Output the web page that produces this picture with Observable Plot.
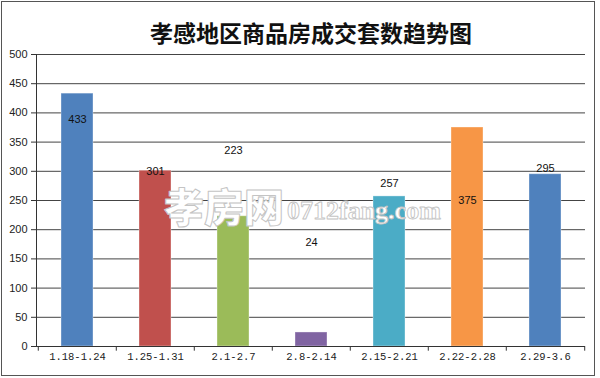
<!DOCTYPE html>
<html><head><meta charset="utf-8">
<script src="https://cdn.jsdelivr.net/npm/d3@7"></script>
<script src="https://cdn.jsdelivr.net/npm/@observablehq/plot@0.6"></script>
<style>
html,body{margin:0;padding:0;background:#fff;}
#wrap{position:relative;width:600px;height:378px;overflow:hidden;}
#border{position:absolute;left:1px;top:1px;width:592px;height:373px;border:1.5px solid #555;pointer-events:none;}
</style></head><body>
<div id="wrap"><div id="chart"></div><div id="border"></div></div>
<script>
const title = "孝感地区商品房成交套数趋势图";
const categories = ["1.18-1.24", "1.25-1.31", "2.1-2.7", "2.8-2.14", "2.15-2.21", "2.22-2.28", "2.29-3.6"];
const values = [433, 301, 223, 24, 257, 375, 295];
const labelAt = [389, 299, 336, 178, 279, 250, 304];
const yTicks = [0, 50, 100, 150, 200, 250, 300, 350, 400, 450, 500];
const barColors = ["#4F81BD", "#C0504D", "#9BBB59", "#8064A2", "#4BACC6", "#F79646", "#4F81BD"];
const watermark = ["孝房网", "0712fang.com"];

const data = categories.map((c, i) => ({cat: c, value: values[i], labelY: labelAt[i], color: barColors[i]}));
const step = (600 - 36 - 15) / categories.length;

const chart = Plot.plot({
  width: 600,
  height: 378,
  marginLeft: 36,
  marginRight: 15,
  marginTop: 54,
  marginBottom: 32,
  style: {background: "#fff", fontFamily: "Arial, 'Liberation Sans', sans-serif", color: "#222"},
  x: {domain: categories, paddingInner: 0.59, paddingOuter: 0.295, label: null},
  y: {domain: [0, 500], label: null},
  color: {type: "identity"},
  marks: [
    Plot.ruleY(yTicks.filter(d => d > 0), {stroke: "#444", strokeWidth: 1}),
    Plot.barY(data, {x: "cat", y: "value", fill: "color", stroke: "#fff", strokeOpacity: 0.35, strokeWidth: 1}),
    Plot.text([watermark[0]], {frameAnchor: "middle", text: d => d, textAnchor: "end", dx: -27, dy: 9,
      fontSize: 40, fontWeight: 900, fontFamily: "'Noto Sans CJK SC', sans-serif",
      fill: "#fff", stroke: "#c4c4c4", strokeWidth: 1, paintOrder: "fill"}),
    Plot.text([watermark[1]], {frameAnchor: "middle", text: d => d, textAnchor: "start", dx: -24, dy: 10,
      fontSize: 26, fontWeight: 700, fontFamily: "'Liberation Serif', serif",
      fill: "#fff", stroke: "#c4c4c4", strokeWidth: 0.9, paintOrder: "fill"}),
    Plot.ruleY([0], {stroke: "#333", strokeWidth: 1}),
    Plot.ruleX(categories, {x: d => d, y1: 0, y2: -8, dx: -step / 2, stroke: "#333"}),
    Plot.ruleX([categories[categories.length - 1]], {x: d => d, y1: 0, y2: -8, dx: step / 2, stroke: "#333"}),
    Plot.frame({anchor: "left", stroke: "#333"}),
    Plot.axisY({ticks: yTicks, tickSize: 5, tickPadding: 4, fontSize: 11, stroke: "#333", label: null}),
    Plot.axisX({tickSize: 0, tickPadding: 6, fontSize: 10.5, fontFamily: "'Liberation Mono', 'DejaVu Sans Mono', monospace", label: null}),
    Plot.text(data, {x: "cat", y: "labelY", text: d => String(d.value), fontSize: 11, fill: "#111"}),
    Plot.text([title], {frameAnchor: "top", text: d => d, dy: -29, fontSize: 23, fontWeight: 700,
      fontFamily: "'Noto Sans CJK SC', sans-serif", fill: "#111"})
  ]
});
document.getElementById("chart").appendChild(chart);
</script>
</body></html>
